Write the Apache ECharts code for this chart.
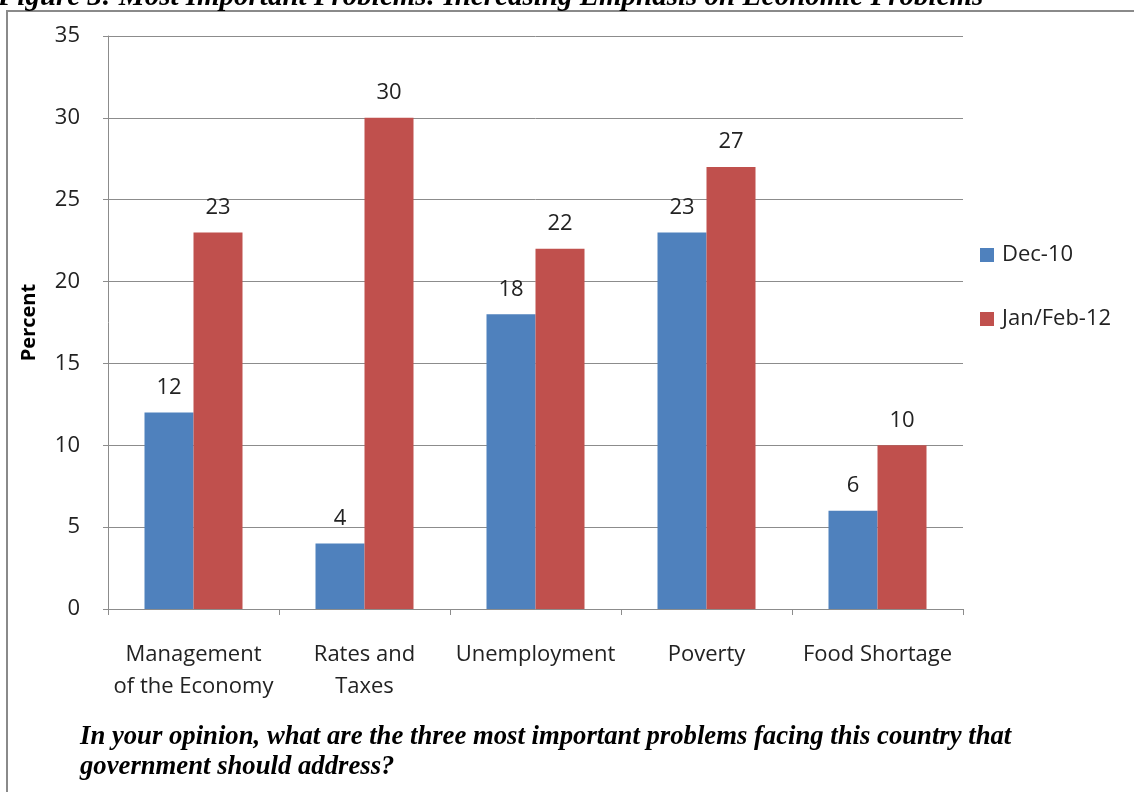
<!DOCTYPE html>
<html>
<head>
<meta charset="utf-8">
<script src="https://cdn.jsdelivr.net/npm/echarts@6/dist/echarts.min.js"></script>
<style>
  html, body { margin: 0; padding: 0; background: #fff; }
  #chart { width: 1134px; height: 792px; }
</style>
</head>
<body>
<div id="chart"></div>
<script>
// Problem categories and survey shares (percent) for each wave
const categories = ['Management\nof the Economy', 'Rates and\nTaxes', 'Unemployment', 'Poverty', 'Food Shortage'];
const dec10 = [12, 4, 18, 23, 6];
const janFeb12 = [23, 30, 22, 27, 10];
const seriesNames = ['Dec-10', 'Jan/Feb-12'];
const yTicks = [0, 5, 10, 15, 20, 25, 30, 35];

const titleText = 'Figure 3: Most Important Problems: Increasing Emphasis on Economic Problems';
const questionText = 'In your opinion, what are the three most important problems facing this country that\ngovernment should address?';

const labelFont = '"Open Sans", Lato, sans-serif';
const serifFont = '"Liberation Serif", "DejaVu Serif", serif';

const chart = echarts.init(document.getElementById('chart'), null, { renderer: 'canvas' });

const valueLabel = {
  show: true,
  position: 'top',
  distance: 14,
  color: '#222',
  fontSize: 22,
  fontFamily: labelFont
};

chart.setOption({
  animation: false,
  backgroundColor: '#fff',
  grid: { left: 108, right: 171, top: 36, bottom: 183, containLabel: false },
  legend: {
    data: seriesNames,
    orient: 'vertical',
    left: 975,
    top: 238,
    itemWidth: 14,
    itemHeight: 14,
    itemGap: 40,
    icon: 'rect',
    textStyle: { fontSize: 22, lineHeight: 24, color: '#222', fontFamily: labelFont, padding: [0, 0, 0, 3] }
  },
  xAxis: {
    type: 'category',
    data: categories,
    axisLine: { lineStyle: { color: '#8c8c8c', width: 1 } },
    axisTick: { show: true, length: 6, alignWithLabel: false, lineStyle: { color: '#8c8c8c' } },
    axisLabel: {
      fontSize: 22,
      lineHeight: 32,
      color: '#222',
      fontFamily: labelFont,
      margin: 30,
      interval: 0
    }
  },
  yAxis: {
    type: 'value',
    min: 0,
    max: 35,
    interval: 5,
    name: 'Percent',
    nameLocation: 'middle',
    nameRotate: 90,
    nameGap: 67,
    nameTextStyle: { fontSize: 20, lineHeight: 24, fontWeight: 'bold', color: '#000', fontFamily: labelFont },
    axisLine: { show: true, lineStyle: { color: '#8c8c8c' } },
    axisTick: { show: true, length: 5, lineStyle: { color: '#8c8c8c' } },
    axisLabel: {
      fontSize: 22,
      color: '#222',
      fontFamily: labelFont,
      margin: 28,
      formatter: v => (yTicks.includes(v) ? String(v) : '')
    },
    splitLine: { show: true, lineStyle: { color: '#8c8c8c', width: 1 } }
  },
  series: [
    {
      name: seriesNames[0],
      type: 'bar',
      data: dec10,
      barWidth: 49,
      barGap: '0%',
      itemStyle: { color: '#4F81BD' },
      label: valueLabel
    },
    {
      name: seriesNames[1],
      type: 'bar',
      data: janFeb12,
      barWidth: 49,
      barGap: '0%',
      itemStyle: { color: '#C0504D' },
      label: valueLabel
    }
  ],
  graphic: [
    // outer frame (top and left edges)
    {
      type: 'polyline',
      silent: true,
      shape: { points: [[7, 800], [7, 11], [1140, 11]] },
      style: { stroke: '#8a8a8a', lineWidth: 2, fill: null }
    },
    {
      type: 'text',
      left: -2,
      top: -17,
      silent: true,
      style: {
        text: titleText,
        font: 'italic bold 29px ' + serifFont,
        lineHeight: 29,
        fill: '#000'
      }
    },
    {
      type: 'text',
      left: 80,
      top: 722,
      silent: true,
      style: {
        text: questionText,
        font: 'italic bold 26.7px ' + serifFont,
        lineHeight: 30,
        fill: '#000'
      }
    }
  ]
});
</script>
</body>
</html>
